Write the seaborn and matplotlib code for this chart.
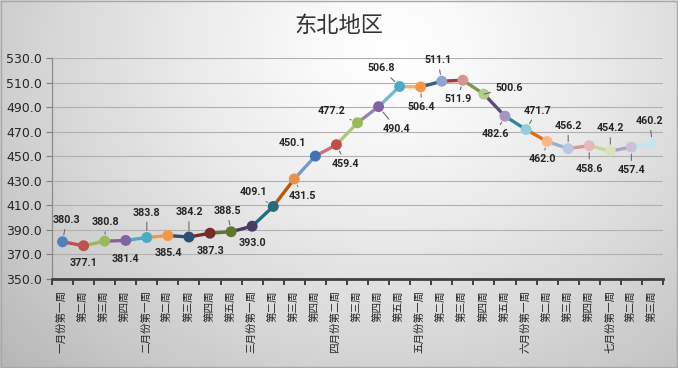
import numpy as np
import pandas as pd
import matplotlib
matplotlib.use("Agg")
import matplotlib.pyplot as plt
import seaborn as sns

# ---------------- data ----------------
weeks = ["一月份第一周", "第二周", "第三周", "第四周",
         "二月份第一周", "第二周", "第三周", "第四周", "第五周",
         "三月份第一周", "第二周", "第三周", "第四周",
         "四月份第二周", "第三周", "第四周", "第五周",
         "五月份第一周", "第二周", "第三周", "第四周", "第五周",
         "六月份第一周", "第二周", "第三周", "第四周",
         "七月份第一周", "第二周", "第三周"]
prices = [380.3, 377.1, 380.8, 381.4, 383.8, 385.4, 384.2, 387.3, 388.5, 393.0,
          409.1, 431.5, 450.1, 459.4, 477.2, 490.4, 506.8, 506.4, 511.1, 511.9,
          500.6, 482.6, 471.7, 462.0, 456.2, 458.6, 454.2, 457.4, 460.2]
title = "东北地区"
y_ticks = [350, 370, 390, 410, 430, 450, 470, 490, 510, 530]

# ---------------- styles ----------------
marker_colors = ["#4F81BD", "#C0504D", "#9BBB59", "#8064A2", "#4BACC6", "#F79646",
                 "#2C4D75", "#772C2A", "#5F7530", "#4D3B62", "#276A7C", "#E8924A",
                 "#3F73B8", "#C0504D", "#9BBB59", "#8064A2", "#4BACC6", "#F79646",
                 "#8EA4D2", "#D59595", "#B6CC8E", "#A896C0", "#93CDDD", "#FAB88A",
                 "#B9C8E2", "#E6B9B8", "#D7E4BD", "#CCC1DA", "#C5E5EE"]
segment_colors = ["#C0504D", "#9BBB59", "#8064A2", "#4BACC6", "#F79646",
                  "#2C4D75", "#772C2A", "#5F7530", "#4D3B62", "#276A7C", "#B65708",
                  "#729ACA", "#CD7371", "#AFC97A", "#9983B5", "#6FBDD1", "#F9AB6B",
                  "#3A5A8C", "#A33A37", "#7F9A48", "#604A7B", "#31859C", "#E46C0A",
                  "#95B3D7", "#D99694", "#C3D69B", "#B3A2C7", "#C5E5EE"]
# label offsets in pixels (dx, dy) and whether a leader line is drawn
label_offsets = [(4, 22), (0, -17), (1, 19), (0, -19), (0, 25), (0, -17), (0, 25),
                 (0, -18), (-4, 21), (0, -17), (-20, 14), (8, -17), (-23, 13),
                 (9, -19), (-26, 12), (18, -22), (-18, 18), (1, -20), (-4, 21),
                 (-5, -19), (25, 6), (-10, -18), (11, 19), (-5, -18), (0, 23),
                 (0, -23), (0, 23), (0, -23), (-3, 23)]
leaders = [True, False, True, False, True, False, True, False, True, False,
           True, True, False, True, True, True, True, True, True, True,
           True, True, True, True, True, True, True, True, True]

sns.set_theme(style="white")
plt.rcParams["font.family"] = ["Noto Sans CJK SC", "DejaVu Sans"]

W, H, DPI = 678, 368, 100
fig = plt.figure(figsize=(W / DPI, H / DPI), dpi=DPI)
fig.patch.set_facecolor("white")

# background gradient
bg = fig.add_axes([0, 0, 1, 1], zorder=-10)
yy, xx = np.mgrid[0:H, 0:W]
r = np.sqrt(((xx - 390) / (W * 0.62)) ** 2 + ((yy - 50) / (H * 1.0)) ** 2)
g = np.clip(1.0 - 0.21 * np.clip(r, 0, 1.3) ** 1.3, 0, 1)
bg.imshow(np.dstack([g, g, g]), extent=[0, W, H, 0], aspect="auto")
bg.add_patch(plt.Rectangle((0.5, 0.5), W - 1.5, H - 1.5, fill=False,
                           edgecolor="#a8a8a8", lw=1))
bg.set_xlim(0, W)
bg.set_ylim(H, 0)
bg.axis("off")

ax = fig.add_axes([52 / W, (H - 279) / H, (663 - 52) / W, (279 - 58) / H])
ax.set_facecolor("none")

df = pd.DataFrame({"idx": np.arange(len(prices)), "price": prices, "week": weeks})

# coloured segments
for i in range(1, len(df)):
    ax.plot(df["idx"].iloc[i - 1:i + 1], df["price"].iloc[i - 1:i + 1],
            color=segment_colors[i - 1], lw=2.4, solid_capstyle="round", zorder=3)

sns.scatterplot(data=df, x="idx", y="price", hue="idx", palette=marker_colors,
                s=62, edgecolor="none", legend=False, ax=ax, zorder=4)

for i, (v, (dx, dy)) in enumerate(zip(prices, label_offsets)):
    arrow = dict(arrowstyle="-", color="#6f6f6f", lw=0.8, shrinkA=1, shrinkB=5) if leaders[i] else None
    ax.annotate(f"{v:.1f}", xy=(i, v), xytext=(dx, dy), textcoords="offset pixels",
                ha="center", va="center", fontsize=7.7, fontweight="bold",
                family=["Roboto", "DejaVu Sans"], color="#262626",
                arrowprops=arrow, zorder=5)

ax.set_xlim(-0.5, len(prices) - 0.5)
ax.set_ylim(350, 530)
ax.set_yticks(y_ticks)
ax.set_yticklabels([f"{t:.1f}" for t in y_ticks], family=["DejaVu Sans"],
                   fontsize=9, color="#262626")
ax.yaxis.grid(True, color="#b0b0b0", lw=0.8)
ax.set_axisbelow(True)

ax.set_xticks(df["idx"])
ax.set_xticklabels(weeks, rotation=90, fontsize=7.6, color="#262626",
                   va="top", ha="center")
ax.tick_params(axis="x", which="major", length=0, pad=8)
ax.set_xticks(np.arange(-0.5, len(prices)), minor=True)
ax.tick_params(axis="x", which="minor", length=4, width=1.4, color="#404040",
               direction="out", bottom=True)
ax.tick_params(axis="y", length=4, width=0.8, color="#808080", direction="out",
               left=True, pad=3)
ax.set_xlabel("")
ax.set_ylabel("")

for s in ["top", "right"]:
    ax.spines[s].set_visible(False)
ax.spines["left"].set_color("#8c8c8c")
ax.spines["left"].set_linewidth(0.9)
ax.spines["bottom"].set_color("#404040")
ax.spines["bottom"].set_linewidth(2)

fig.text(0.5, 1 - 25 / H, title, ha="center", va="center", fontsize=16,
         color="#333333")

fig.savefig("out.png", dpi=DPI)
